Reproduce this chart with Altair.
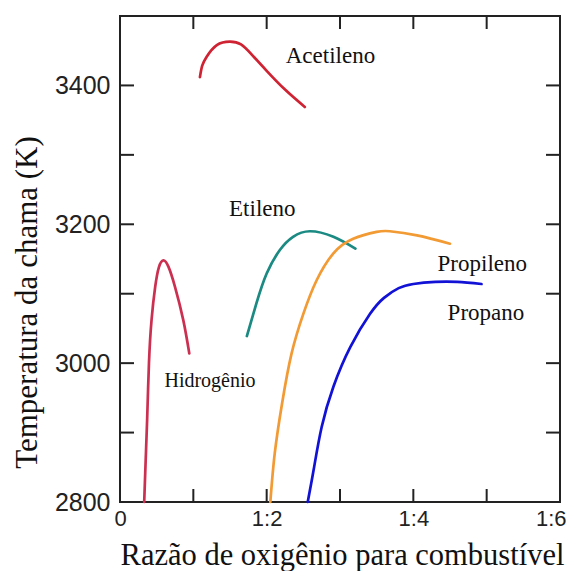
import altair as alt
import pandas as pd

# ---- data ----
series_names = ["Hidrogênio", "Acetileno", "Etileno", "Propileno", "Propano"]
series_colors = ["#cc3050", "#cf2232", "#1a8a82", "#f29a33", "#1212d6"]
series_widths = [2.7, 2.7, 2.7, 3.5, 3.8]

hid_x = [0.33, 0.35, 0.37, 0.395, 0.43, 0.48, 0.53, 0.59, 0.66, 0.75, 0.863, 0.945]
hid_y = [2800, 2860, 2918, 3000, 3062, 3110, 3138, 3148, 3139, 3110, 3062, 3014]

ace_x = [1.09, 1.12, 1.18, 1.32, 1.50, 1.65, 1.80, 2.00, 2.25, 2.52]
ace_y = [3412, 3428, 3441, 3458, 3463, 3459, 3444, 3421, 3394, 3369]

eti_x = [1.73, 1.86, 2.00, 2.18, 2.36, 2.59, 2.91, 3.21]
eti_y = [3039, 3086, 3129, 3163, 3182, 3190, 3182, 3165]

prl_x = [2.05, 2.11, 2.21, 2.34, 2.50, 2.68, 2.91, 3.18, 3.50, 3.68, 4.05, 4.50]
prl_y = [2800, 2870, 2942, 3014, 3071, 3119, 3158, 3179, 3189, 3190, 3184, 3172]

pro_x = [2.56, 2.64, 2.75, 2.91, 3.14, 3.41, 3.60, 3.80, 4.00, 4.30, 4.60, 4.93]
pro_y = [2800, 2846, 2908, 2966, 3023, 3071, 3094, 3108, 3114, 3117, 3117, 3114]

label_names = ["Acetileno", "Etileno", "Propileno", "Propano"]
label_x = [2.87, 1.94, 4.94, 4.99]
label_y = [3432, 3212, 3133, 3062]

hid_label = ["Hidrogênio"]
hid_label_x = [1.227]
hid_label_y = [2965]

x_label_values = [0, 2, 4, 6]
x_label_texts = ["0", "1:2", "1:4", "1:6"]
x_minor_ticks = [1, 2, 3, 4, 5]
y_label_values = [2800, 3000, 3200, 3400]
y_minor_ticks = [2900, 3000, 3100, 3200, 3300, 3400]

x_title = "Razão de oxigênio para combustível"
y_title = "Temperatura da chama (K)"

# ---- build tables ----
rows = []
for name, xs_, ys_ in zip(series_names,
                          [hid_x, ace_x, eti_x, prl_x, pro_x],
                          [hid_y, ace_y, eti_y, prl_y, pro_y]):
    for i, (xv, yv) in enumerate(zip(xs_, ys_)):
        rows.append({"serie": name, "x": xv, "y": yv, "i": i})
df = pd.DataFrame(rows)

df_labels = pd.DataFrame({"label": label_names, "x": label_x, "y": label_y})
df_hid = pd.DataFrame({"label": hid_label, "x": hid_label_x, "y": hid_label_y})
df_xt = pd.DataFrame({"x": x_minor_ticks})
df_yt = pd.DataFrame({"y": y_minor_ticks})

label_expr = ""
for v, t in zip(x_label_values, x_label_texts):
    label_expr += f"datum.value == {v} ? '{t}' : "
label_expr += "''"

W, H = 440, 486
TICK = 13
xscale = alt.Scale(domain=[0, 6], nice=False, zero=False)
yscale = alt.Scale(domain=[2800, 3500], nice=False, zero=False)

x_axis = alt.Axis(
    values=x_label_values, labelExpr=label_expr, ticks=False, grid=False,
    domain=False, labelFont="Liberation Sans", labelFontSize=22,
    labelColor="#222", labelPadding=6, labelFlush=True, labelFlushOffset=6,
    titleFont="Liberation Serif", titleFontSize=30.5, titleFontWeight="normal",
    titleColor="#111", titleX=222, titleY=62, titleBaseline="alphabetic",
    titleAlign="center",
)
y_axis = alt.Axis(
    values=y_label_values, format="d", ticks=False, grid=False, domain=False,
    labelFont="Liberation Sans", labelFontSize=25, labelColor="#222",
    labelPadding=10,
    titleFont="Liberation Serif", titleFontSize=31, titleFontWeight="normal",
    titleColor="#111", titleX=-84, titleY=286, titleAngle=270,
    titleBaseline="alphabetic", titleAlign="center",
)


def X():
    return alt.X("x:Q", scale=xscale, axis=x_axis, title=x_title)


def Y():
    return alt.Y("y:Q", scale=yscale, axis=y_axis, title=y_title)


lines = alt.Chart(df).mark_line(interpolate="natural", strokeCap="round").encode(
    x=X(), y=Y(),
    order="i:Q",
    color=alt.Color("serie:N", scale=alt.Scale(domain=series_names, range=series_colors), legend=None),
    strokeWidth=alt.StrokeWidth("serie:N", scale=alt.Scale(domain=series_names, range=series_widths), legend=None),
)

tick_style = dict(color="#222", strokeWidth=2)
bottom_ticks = alt.Chart(df_xt).mark_rule(**tick_style).encode(
    x=X(), y=alt.value(H), y2=alt.value(H - TICK))
top_ticks = alt.Chart(df_xt).mark_rule(**tick_style).encode(
    x=X(), y=alt.value(0), y2=alt.value(TICK))
left_ticks = alt.Chart(df_yt).mark_rule(**tick_style).encode(
    y=Y(), x=alt.value(0), x2=alt.value(TICK + 1))
right_ticks = alt.Chart(df_yt).mark_rule(**tick_style).encode(
    y=Y(), x=alt.value(W), x2=alt.value(W - TICK - 1))

labels = alt.Chart(df_labels).mark_text(
    font="Liberation Serif", fontSize=23, align="center", baseline="alphabetic", color="#111"
).encode(x=X(), y=Y(), text="label:N")
hid_text = alt.Chart(df_hid).mark_text(
    font="Liberation Serif", fontSize=20, align="center", baseline="alphabetic", color="#111"
).encode(x=X(), y=Y(), text="label:N")

chart = alt.layer(lines, bottom_ticks, top_ticks, left_ticks, right_ticks, labels, hid_text).properties(
    width=W, height=H,
    padding={"left": 112, "top": 8, "right": 8, "bottom": 69},
    autosize=alt.AutoSizeParams(type="none"),
    background="white",
).configure_view(stroke="#222", strokeWidth=2)

chart.save("out.html", embed_options={"renderer": "svg", "actions": False})
